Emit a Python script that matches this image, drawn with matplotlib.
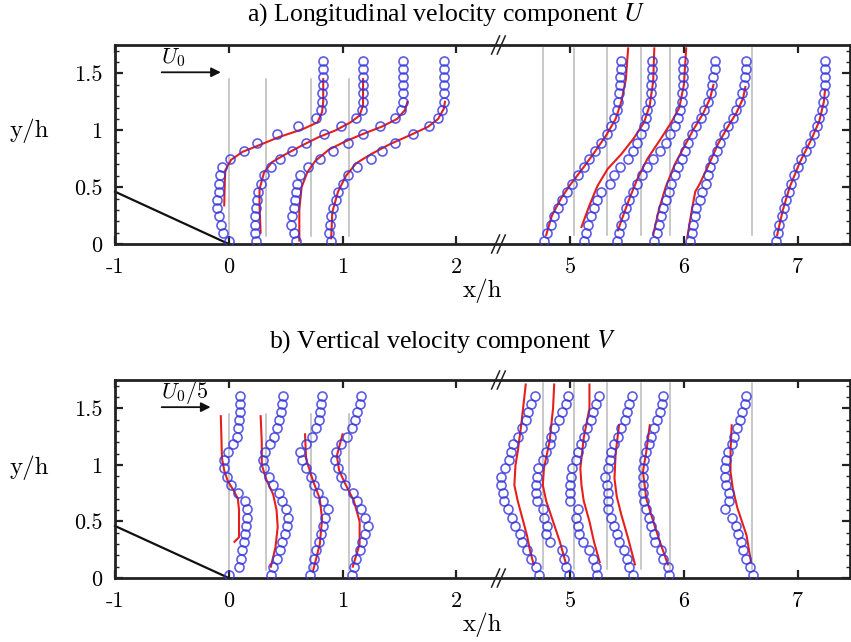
import matplotlib.pyplot as plt
import numpy as np

# x/h axis is broken between 2 and 5: everything right of the break is drawn 2 units to the left
BREAK_GAP = 2.0
BREAK_AT = 2.37

# heights of the measured points (same for every station)
y_exp = [0.03, 0.10, 0.17, 0.25, 0.32, 0.39, 0.46, 0.53, 0.61, 0.68, 0.75, 0.82,
         0.89, 0.97, 1.04, 1.11, 1.18, 1.25, 1.33, 1.40, 1.47, 1.54, 1.61]

stations_near = [0.0, 0.33, 0.72, 1.06]
stations_far = [4.76, 5.03, 5.32, 5.62, 5.88, 6.60]

# measured U profiles (station + scaled velocity, in x/h)
u_exp = [
    [0.00, -0.05, -0.07, -0.09, -0.10, -0.10, -0.09, -0.09, -0.08, -0.06, 0.01, 0.13,
     0.25, 0.42, 0.61, 0.77, 0.81, 0.82, 0.82, 0.83, 0.83, 0.83, 0.83],
    [0.24, 0.23, 0.23, 0.23, 0.24, 0.25, 0.26, 0.28, 0.31, 0.37, 0.45, 0.56,
     0.68, 0.84, 0.99, 1.12, 1.17, 1.18, 1.18, 1.18, 1.18, 1.18, 1.18],
    [0.59, 0.57, 0.55, 0.56, 0.57, 0.58, 0.59, 0.60, 0.63, 0.70, 0.80, 0.92,
     1.05, 1.18, 1.33, 1.46, 1.51, 1.53, 1.53, 1.53, 1.53, 1.53, 1.53],
    [0.90, 0.88, 0.89, 0.90, 0.92, 0.94, 0.96, 1.00, 1.05, 1.13, 1.25, 1.35,
     1.46, 1.62, 1.76, 1.84, 1.87, 1.89, 1.89, 1.89, 1.89, 1.89, 1.89],
    [4.77, 4.80, 4.83, 4.86, 4.89, 4.93, 4.97, 5.02, 5.07, 5.12, 5.17, 5.22,
     5.27, 5.32, 5.36, 5.39, 5.41, 5.42, 5.43, 5.44, 5.44, 5.45, 5.45],
    [5.12, 5.14, 5.16, 5.18, 5.21, 5.24, 5.27, 5.35, 5.39, 5.44, 5.51, 5.55,
     5.59, 5.62, 5.65, 5.67, 5.68, 5.70, 5.71, 5.71, 5.72, 5.72, 5.72],
    [5.41, 5.43, 5.45, 5.47, 5.49, 5.52, 5.55, 5.59, 5.63, 5.68, 5.73, 5.79,
     5.84, 5.88, 5.92, 5.95, 5.97, 5.98, 5.98, 5.99, 5.99, 5.99, 5.99],
    [5.74, 5.76, 5.78, 5.80, 5.82, 5.84, 5.87, 5.89, 5.92, 5.95, 5.98, 6.01,
     6.04, 6.07, 6.11, 6.15, 6.18, 6.21, 6.24, 6.25, 6.26, 6.27, 6.27],
    [6.05, 6.07, 6.08, 6.10, 6.11, 6.14, 6.16, 6.19, 6.21, 6.23, 6.26, 6.29,
     6.32, 6.35, 6.39, 6.43, 6.46, 6.49, 6.51, 6.53, 6.54, 6.55, 6.55],
    [6.81, 6.83, 6.84, 6.86, 6.88, 6.90, 6.92, 6.94, 6.97, 7.00, 7.03, 7.07,
     7.11, 7.14, 7.17, 7.19, 7.21, 7.22, 7.23, 7.24, 7.24, 7.24, 7.24],
]

# simulated U profiles as (x, y) pairs
u_sim = [
    ([-0.04, -0.035, -0.03, 0.02, 0.12, 0.27, 0.44, 0.65, 0.78, 0.82, 0.83, 0.83],
     [0.34, 0.55, 0.65, 0.74, 0.81, 0.87, 0.94, 1.01, 1.07, 1.16, 1.25, 1.45]),
    ([0.28, 0.27, 0.27, 0.31, 0.38, 0.50, 0.65, 0.79, 0.94, 1.07, 1.15, 1.18, 1.18],
     [0.10, 0.34, 0.48, 0.63, 0.72, 0.79, 0.87, 0.94, 1.00, 1.07, 1.13, 1.22, 1.45]),
    ([0.62, 0.62, 0.64, 0.69, 0.76, 0.88, 1.02, 1.16, 1.34, 1.48, 1.55, 1.57],
     [0.03, 0.30, 0.50, 0.63, 0.73, 0.83, 0.90, 0.96, 1.03, 1.10, 1.18, 1.25]),
    ([0.90, 0.91, 0.96, 1.03, 1.12, 1.25, 1.42, 1.60, 1.75, 1.84, 1.89, 1.90],
     [0.05, 0.28, 0.46, 0.60, 0.71, 0.79, 0.88, 0.96, 1.03, 1.10, 1.19, 1.25]),
    ([4.79, 4.84, 4.92, 5.00, 5.10, 5.21, 5.32, 5.40, 5.45, 5.49, 5.51],
     [0.08, 0.25, 0.40, 0.52, 0.65, 0.80, 0.96, 1.10, 1.25, 1.45, 1.72]),
    ([5.10, 5.17, 5.24, 5.33, 5.45, 5.56, 5.65, 5.70, 5.73, 5.74],
     [0.15, 0.34, 0.51, 0.66, 0.79, 0.93, 1.07, 1.22, 1.43, 1.72]),
    ([5.42, 5.51, 5.59, 5.68, 5.80, 5.89, 5.96, 6.00, 6.02],
     [0.12, 0.37, 0.57, 0.75, 0.93, 1.07, 1.20, 1.40, 1.72]),
    ([5.73, 5.78, 5.84, 5.92, 6.00, 6.08, 6.17, 6.23, 6.26],
     [0.08, 0.30, 0.50, 0.70, 0.85, 1.00, 1.15, 1.28, 1.40]),
    ([6.03, 6.07, 6.10, 6.14, 6.22, 6.30, 6.38, 6.46, 6.52, 6.54],
     [0.06, 0.30, 0.46, 0.53, 0.70, 0.88, 1.02, 1.15, 1.28, 1.38]),
    ([6.82, 6.87, 6.93, 7.02, 7.12, 7.19, 7.23, 7.24],
     [0.08, 0.30, 0.50, 0.72, 0.92, 1.08, 1.25, 1.35]),
]

# measured V profiles
v_exp = [
    [0.00, 0.09, 0.11, 0.12, 0.13, 0.14, 0.15, 0.16, 0.16, 0.14, 0.08, 0.02,
     -0.02, -0.04, -0.04, -0.01, 0.04, 0.07, 0.08, 0.09, 0.10, 0.10, 0.10],
    [0.37, 0.39, 0.42, 0.45, 0.47, 0.49, 0.51, 0.52, 0.50, 0.47, 0.44, 0.39,
     0.35, 0.31, 0.30, 0.32, 0.36, 0.40, 0.42, 0.44, 0.46, 0.47, 0.48],
    [0.71, 0.74, 0.75, 0.77, 0.79, 0.81, 0.83, 0.85, 0.87, 0.83, 0.78, 0.75,
     0.72, 0.68, 0.64, 0.63, 0.68, 0.73, 0.77, 0.79, 0.80, 0.81, 0.82],
    [1.08, 1.10, 1.12, 1.15, 1.17, 1.20, 1.22, 1.20, 1.16, 1.13, 1.09, 1.02,
     0.99, 0.96, 0.93, 0.94, 0.99, 1.04, 1.08, 1.11, 1.13, 1.15, 1.16],
    [4.73, 4.70, 4.66, 4.62, 4.58, 4.56, 4.52, 4.49, 4.45, 4.42, 4.41, 4.39,
     4.39, 4.43, 4.46, 4.48, 4.50, 4.54, 4.58, 4.61, 4.63, 4.66, 4.69],
    [4.99, 4.96, 4.95, 4.93, 4.82, 4.79, 4.80, 4.77, 4.76, 4.71, 4.70, 4.70,
     4.71, 4.72, 4.76, 4.79, 4.82, 4.83, 4.86, 4.90, 4.93, 4.96, 4.98],
    [5.24, 5.23, 5.20, 5.17, 5.11, 5.08, 5.07, 5.05, 5.07, 5.00, 5.00, 5.00,
     5.01, 5.02, 5.05, 5.07, 5.10, 5.12, 5.15, 5.18, 5.20, 5.23, 5.25],
    [5.55, 5.52, 5.50, 5.47, 5.43, 5.41, 5.39, 5.36, 5.33, 5.33, 5.33, 5.32,
     5.31, 5.33, 5.35, 5.36, 5.39, 5.42, 5.45, 5.48, 5.50, 5.52, 5.54],
    [5.87, 5.86, 5.82, 5.80, 5.75, 5.74, 5.71, 5.69, 5.67, 5.65, 5.64, 5.64,
     5.64, 5.64, 5.65, 5.67, 5.69, 5.71, 5.74, 5.76, 5.79, 5.81, 5.82],
    [6.61, 6.58, 6.55, 6.52, 6.50, 6.48, 6.46, 6.42, 6.36, 6.40, 6.40, 6.37,
     6.36, 6.36, 6.37, 6.39, 6.42, 6.44, 6.47, 6.49, 6.51, 6.54, 6.55],
]

# simulated V profiles
v_sim = [
    ([-0.07, -0.065, -0.06, -0.04, -0.01, 0.05, 0.08, 0.09, 0.09, 0.09, 0.05],
     [1.43, 1.25, 1.06, 0.95, 0.86, 0.76, 0.70, 0.60, 0.45, 0.36, 0.32]),
    ([0.28, 0.29, 0.29, 0.33, 0.39, 0.42, 0.43, 0.41, 0.37],
     [1.43, 1.20, 1.00, 0.87, 0.74, 0.60, 0.45, 0.27, 0.10]),
    ([0.67, 0.68, 0.74, 0.80, 0.82, 0.80, 0.74],
     [1.27, 1.05, 0.86, 0.70, 0.52, 0.30, 0.06]),
    ([1.00, 0.95, 0.97, 1.02, 1.10, 1.15, 1.15, 1.09],
     [1.27, 1.08, 0.95, 0.84, 0.68, 0.50, 0.30, 0.10]),
    ([4.61, 4.57, 4.54, 4.52, 4.51, 4.54, 4.58, 4.62, 4.65, 4.68],
     [1.71, 1.35, 1.12, 1.00, 0.82, 0.68, 0.53, 0.38, 0.23, 0.12]),
    ([4.86, 4.85, 4.82, 4.77, 4.76, 4.79, 4.85, 4.91, 4.96],
     [1.71, 1.50, 1.21, 0.97, 0.82, 0.68, 0.50, 0.32, 0.14]),
    ([5.17, 5.17, 5.12, 5.09, 5.10, 5.12, 5.17, 5.21, 5.26],
     [1.71, 1.50, 1.24, 0.97, 0.82, 0.68, 0.50, 0.32, 0.14]),
    ([5.43, 5.40, 5.39, 5.41, 5.45, 5.51, 5.57],
     [1.35, 1.10, 0.88, 0.72, 0.56, 0.35, 0.12]),
    ([5.70, 5.67, 5.64, 5.67, 5.74, 5.81, 5.86],
     [1.35, 1.12, 0.94, 0.70, 0.47, 0.26, 0.12]),
    ([6.42, 6.41, 6.41, 6.43, 6.47, 6.55, 6.59],
     [1.35, 1.12, 0.94, 0.79, 0.62, 0.38, 0.14]),
]

xtick_vals = [-1, 0, 1, 2, 5, 6, 7]
ytick_vals = [0, 0.5, 1, 1.5]

plt.rcParams['font.family'] = 'cmr10'
plt.rcParams['axes.formatter.use_mathtext'] = True


def to_plot(x):
    x = np.asarray(x, dtype=float)
    return np.where(x > 3.0, x - BREAK_GAP, x)


def draw_panel(ax, exp, sim, ref_label, arrow_end):
    for xs in stations_near:
        ax.plot([xs, xs], [0.07, 1.45], color='#b9b9b9', lw=1.1, zorder=1)
    for xs in to_plot(stations_far):
        ax.plot([xs, xs], [0.08, 1.72], color='#b9b9b9', lw=1.1, zorder=1)

    for xs, ys in sim:
        ax.plot(to_plot(xs), ys, color='#e5201c', lw=1.5, zorder=2)
    for xs in exp:
        ax.plot(to_plot(xs), y_exp, ls='none', marker='o', ms=6.5, mfc='none',
                mec='#3535dd', mew=1.2, alpha=0.8, zorder=3)

    # ramp of the step
    ax.plot([-1, 0], [0.46, 0], color='#111111', lw=1.6, zorder=2, clip_on=False)

    # reference velocity arrow
    ax.annotate('', xy=(arrow_end, 1.51), xytext=(-0.59, 1.51),
                arrowprops=dict(arrowstyle='-|>', color='#111111', lw=1.3,
                                mutation_scale=14, shrinkA=0, shrinkB=0))
    ax.text(-0.60, 1.64, ref_label, fontsize=16, ha='left', va='center',
            math_fontfamily='cm')

    ax.set_xlim(-1.0, 5.46)
    ax.set_ylim(0, 1.75)
    ax.set_xticks(to_plot(xtick_vals))
    ax.set_xticklabels([str(v) for v in xtick_vals])
    ax.set_yticks(ytick_vals)
    ax.set_yticklabels(['0', '0.5', '1', '1.5'])
    ax.set_yticks(np.arange(0.1, 1.75, 0.1), minor=True)
    ax.tick_params(which='major', direction='in', top=True, right=True,
                   length=6, width=1.6, labelsize=16, color='#222222')
    ax.tick_params(axis='x', pad=10)
    ax.tick_params(axis='y', pad=9)
    ax.tick_params(which='minor', axis='y', direction='in', left=True, right=True,
                   length=3, width=1.0, color='#222222')
    for sp in ax.spines.values():
        sp.set_linewidth(2.0)
        sp.set_color('#222222')

    # // marks of the axis break on both horizontal spines
    dx, dy = 4 / 113.7, 9 / 113.3
    for yb in (0.0, 1.75):
        for xb in (BREAK_AT - 0.025, BREAK_AT + 0.025):
            ax.plot([xb - dx, xb + dx], [yb - dy, yb + dy], color='#222222',
                    lw=1.1, clip_on=False, zorder=5)

    ax.text(0.5, -0.235, 'x/h', transform=ax.transAxes, fontsize=18,
            ha='center', va='center')


fig = plt.figure(figsize=(8.51, 6.42), dpi=100)
ax_u = fig.add_axes([115 / 851, 1 - 244 / 642, 735 / 851, 199 / 642])
ax_v = fig.add_axes([115 / 851, 1 - 578 / 642, 735 / 851, 198 / 642])

draw_panel(ax_u, u_exp, u_sim, r'$U_0$', -0.07)
draw_panel(ax_v, v_exp, v_sim, r'$U_0/5$', -0.16)

fig.text(29 / 851, 1 - 131 / 642, 'y/h', fontsize=18, ha='center', va='center')
fig.text(29 / 851, 1 - 468 / 642, 'y/h', fontsize=18, ha='center', va='center')

fig.text(446 / 851, 1 - 15 / 642, r'a) Longitudinal velocity component $U$',
         family='Liberation Serif', math_fontfamily='stix', fontsize=18.5,
         ha='center', va='center')
fig.text(443 / 851, 1 - 342 / 642, r'b) Vertical velocity component $V$',
         family='Liberation Serif', math_fontfamily='stix', fontsize=18.5,
         ha='center', va='center')

fig.savefig('out.png', dpi=100)
